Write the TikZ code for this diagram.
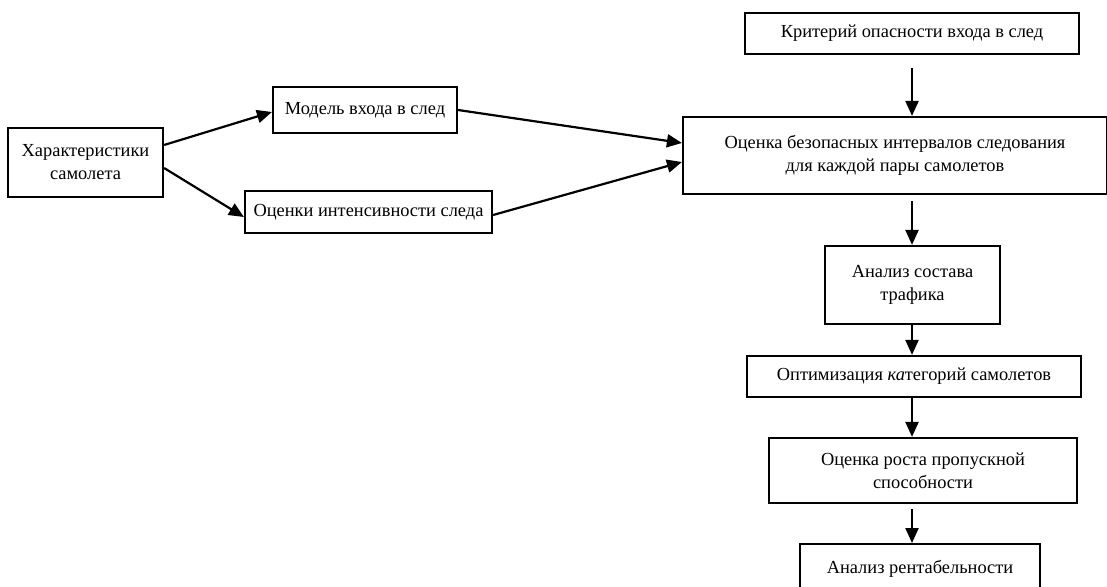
\documentclass[tikz,border=0pt]{standalone}
\usepackage{fontspec}
\setmainfont{Liberation Serif}
\usetikzlibrary{arrows.meta}
\begin{document}
\begin{tikzpicture}[x=1pt,y=-1pt,
  box/.style={draw=black, line width=2.2pt, inner sep=0pt, align=center, font=\fontsize{18.4}{23}\selectfont, fill=white},
  arr/.style={line width=2.2pt, -{Triangle[length=15pt,width=13pt]}}]
\useasboundingbox (0,0) rectangle (1107,586);
\clip (0,0) rectangle (1107,586);
\fill[white] (0,0) rectangle (1107,586);
\node[box, minimum width=155pt, minimum height=69pt] (har) at (85.5,162.5) {Характеристики\\самолета};
\node[box, minimum width=184pt, minimum height=46pt] (mod) at (365,110) {Модель входа в след};
\node[box, minimum width=247pt, minimum height=42pt] (int) at (368.5,212) {Оценки интенсивности следа};
\node[box, minimum width=334pt, minimum height=41pt] (krit) at (912,33.5) {Критерий опасности входа в след};
\node[box, minimum width=424pt, minimum height=77pt] (ocb) at (895,155.5) {Оценка безопасных интервалов следования\\для каждой пары самолетов};
\node[box, minimum width=175pt, minimum height=78pt] (an) at (912.5,285) {Анализ состава\\трафика};
\node[box, minimum width=334pt, minimum height=41pt] (opt) at (914,376.5) {Оптимизация \textit{ка}тегорий самолетов};
\node[box, minimum width=308pt, minimum height=65pt] (ros) at (923,470.5) {Оценка роста пропускной\\способности};
\node[box, minimum width=240pt, minimum height=50pt, anchor=north] (rent) at (920,543) {Анализ рентабельности};
% connectors
\draw[arr] (har.east |- 0,145) -- (mod.west |- 0,112);
\draw[arr] (har.east |- 0,168) -- (int.west |- 0,217);
\draw[arr] (mod.east |- 0,110) -- (ocb.west |- 0,143);
\draw[arr] (int.east |- 0,215) -- (ocb.west |- 0,162);
\draw[arr, shorten <=13pt] (krit.south -| 912,0) -- (ocb.north -| 912,0);
\draw[arr, shorten <=6pt] (ocb.south -| 912,0) -- (an.north -| 912,0);
\draw[arr] (an.south -| 912,0) -- (opt.north -| 912,0);
\draw[arr] (opt.south -| 912,0) -- (ros.north -| 912,0);
\draw[arr, shorten <=5pt] (ros.south -| 912,0) -- (rent.north -| 912,0);
\end{tikzpicture}
\end{document}
